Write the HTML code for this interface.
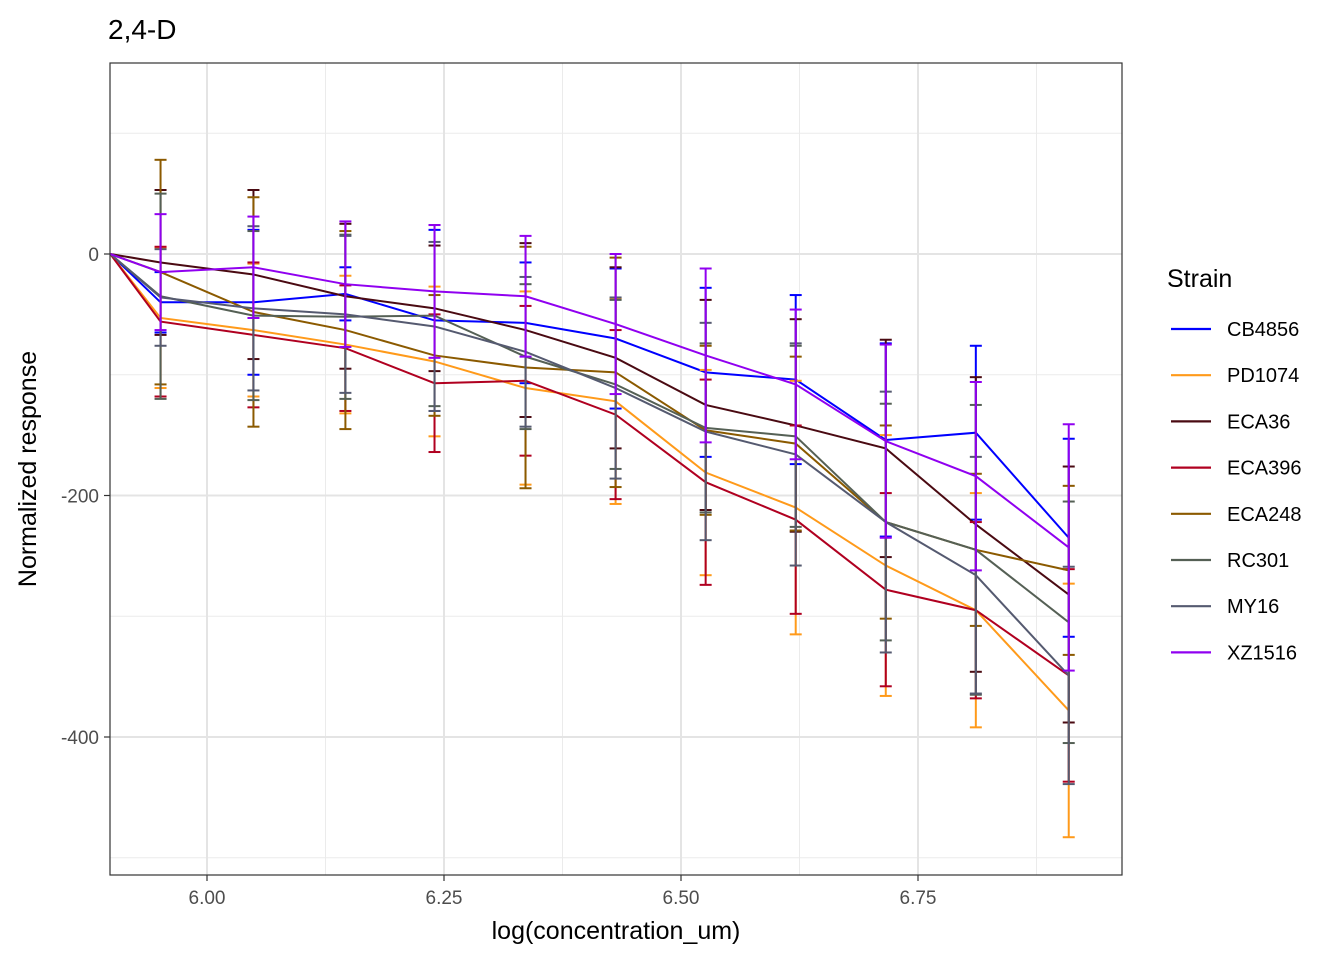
<!DOCTYPE html>
<html><head><meta charset="utf-8"><style>
body{margin:0;background:#fff;font-family:"Liberation Sans",Arial,sans-serif}
svg text{font-family:"Liberation Sans",Arial,sans-serif}
</style></head><body>
<svg id="chart" width="1344" height="960" xmlns="http://www.w3.org/2000/svg">
<text x="108" y="39" font-size="28" fill="#000">2,4-D</text>
<g id="grid"></g>
<g id="marks"></g>
<rect x="110" y="63" width="1012" height="812" fill="none" stroke="#333" stroke-width="1.2"/>
<g id="axes"></g>
<text x="616" y="939" font-size="25" text-anchor="middle">log(concentration_um)</text>
<text transform="translate(36,469) rotate(-90)" font-size="25" text-anchor="middle">Normalized response</text>
<text x="1167" y="287" font-size="25">Strain</text>
<g id="legend"></g>
</svg>
<script>
const xVals=[5.898,5.951,6.049,6.146,6.240,6.336,6.431,6.526,6.621,6.716,6.811,6.909];
const strains=["CB4856","PD1074","ECA36","ECA396","ECA248","RC301","MY16","XZ1516"];
const colors=["#0000ff","#ff9a1a","#4a0a12","#b00020","#8b5a00","#556055","#555a70","#9000f0"];
const cb4856=[0,-40,-40,-33,-55,-57,-70,-98,-104,-154,-148,-235];
const pd1074=[0,-53,-63,-75,-89,-111,-122,-181,-210,-258,-295,-378];
const eca36=[0,-7,-17,-35,-45,-63,-86,-125,-142,-161,-224,-282];
const eca396=[0,-56,-67,-78,-107,-105,-133,-189,-220,-278,-295,-349];
const eca248=[0,-15,-48,-63,-84,-94,-98,-146,-157,-222,-245,-262];
const rc301=[0,-35,-51,-52,-51,-85,-108,-144,-151,-222,-245,-305];
const my16=[0,-36,-45,-50,-60,-81,-111,-147,-166,-222,-266,-349];
const xz1516=[0,-15,-11,-25,-31,-35,-58,-84,-108,-155,-184,-243];
const cb4856Err=[0,25,60,22,75,50,58,70,70,80,72,82];
const pd1074Err=[0,58,55,57,62,80,85,85,105,108,97,105];
const eca36Err=[0,60,70,60,52,72,75,87,88,90,122,106];
const eca396Err=[0,62,60,52,57,62,70,85,78,80,73,88];
const eca248Err=[0,93,95,82,50,100,95,70,72,80,63,70];
const rc301Err=[0,85,70,68,75,60,70,70,75,98,120,100];
const my16Err=[0,40,68,65,70,62,75,90,92,108,98,90];
const xz1516Err=[0,48,42,52,55,50,58,72,62,80,78,102];
const series=[cb4856,pd1074,eca36,eca396,eca248,rc301,my16,xz1516];
const errs=[cb4856Err,pd1074Err,eca36Err,eca396Err,eca248Err,rc301Err,my16Err,xz1516Err];
const xTicks=[6.00,6.25,6.50,6.75];
const xTickLabels=["6.00","6.25","6.50","6.75"];
const yTicks=[0,-200,-400];
const yTickLabels=["0","-200","-400"];
const xMinor=[6.125,6.375,6.625,6.875];
const yMinor=[100,-100,-300,-500];
const NS="http://www.w3.org/2000/svg";
const X=v=>207+(v-6.0)*948, Y=v=>254-v*1.2075;
function mk(t,a,p){const e=document.createElementNS(NS,t);for(const k in a)e.setAttribute(k,a[k]);p.appendChild(e);return e;}
const grid=document.getElementById('grid'),marks=document.getElementById('marks'),axes=document.getElementById('axes'),legend=document.getElementById('legend');
mk('rect',{x:110,y:63,width:1012,height:812,fill:'#fff'},grid);
xMinor.forEach(v=>{const l=mk('line',{x1:X(v),x2:X(v),y1:63,y2:875,stroke:'#ebebeb','stroke-width':1},grid);

});
yMinor.forEach(v=>{const l=mk('line',{x1:110,x2:1122,y1:Y(v),y2:Y(v),stroke:'#ebebeb','stroke-width':1},grid);

});
xTicks.forEach((v,i)=>{const l=mk('line',{x1:X(v),x2:X(v),y1:63,y2:875,stroke:'#e4e4e4','stroke-width':2},grid);


mk('line',{x1:X(v),x2:X(v),y1:875,y2:881,stroke:'#333','stroke-width':1.2},axes);
const t=mk('text',{x:X(v),y:904,'font-size':19,'text-anchor':'middle',fill:'#4d4d4d'},axes);t.textContent=xTickLabels[i];

});
yTicks.forEach((v,i)=>{const l=mk('line',{x1:110,x2:1122,y1:Y(v),y2:Y(v),stroke:'#e4e4e4','stroke-width':2},grid);


mk('line',{x1:104,x2:110,y1:Y(v),y2:Y(v),stroke:'#333','stroke-width':1.2},axes);
const t=mk('text',{x:99,y:Y(v)+7,'font-size':19,'text-anchor':'end',fill:'#4d4d4d'},axes);t.textContent=yTickLabels[i];

});
series.forEach((s,k)=>{
 const g=mk('g',{},marks);
 
 
 s.forEach((v,i)=>{if(!errs[k][i])return;const x=X(xVals[i]);const a=Y(v+errs[k][i]),b=Y(v-errs[k][i]);
  mk('line',{x1:x,x2:x,y1:a,y2:b,stroke:colors[k],'stroke-width':2},g);
  mk('line',{x1:x-6,x2:x+6,y1:a,y2:a,stroke:colors[k],'stroke-width':2},g);
  mk('line',{x1:x-6,x2:x+6,y1:b,y2:b,stroke:colors[k],'stroke-width':2},g);});
 const p=mk('polyline',{points:s.map((v,i)=>X(xVals[i])+','+Y(v)).join(' '),fill:'none',stroke:colors[k],'stroke-width':2},g);
 
 
});
strains.forEach((s,k)=>{const y=329+k*46.2;
 const g=mk('g',{},legend);
 
 
 mk('line',{x1:1171,x2:1211,y1:y,y2:y,stroke:colors[k],'stroke-width':2.2},g);
 const t=mk('text',{x:1227,y:y+7,'font-size':20,fill:'#000'},g);t.textContent=s;});
</script>
</body></html>
